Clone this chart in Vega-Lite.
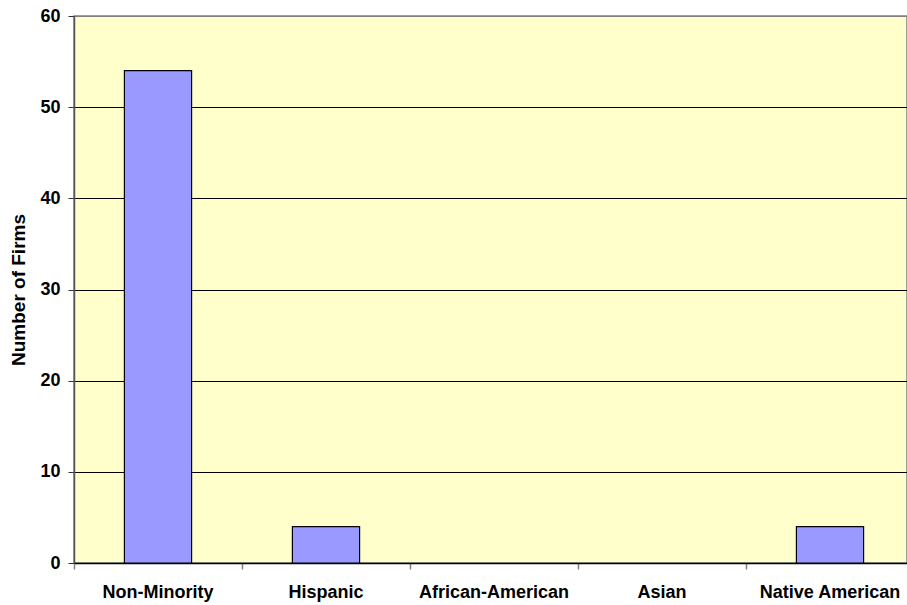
{
  "$schema": "https://vega.github.io/schema/vega-lite/v6.json",
  "width": 833,
  "height": 547,
  "autosize": {"type": "none"},
  "padding": {"left": 74, "top": 16, "right": 0, "bottom": 42},
  "background": "white",
  "config": {
    "font": "Liberation Sans",
    "view": {"fill": "#FFFFCC", "stroke": "#808080", "strokeWidth": 1.5}
  },
  "data": {
    "values": [
      {"group": "Non-Minority", "firms": 54},
      {"group": "Hispanic", "firms": 4},
      {"group": "African-American", "firms": 0},
      {"group": "Asian", "firms": 0},
      {"group": "Native American", "firms": 4}
    ]
  },
  "transform": [{"filter": "datum.firms > 0"}],
  "mark": {
    "type": "bar",
    "fill": "#9999FF",
    "stroke": "black",
    "strokeWidth": 1.2,
    "width": {"band": 0.4}
  },
  "encoding": {
    "x": {
      "field": "group",
      "type": "nominal",
      "sort": null,
      "scale": {
        "domain": ["Non-Minority", "Hispanic", "African-American", "Asian", "Native American"],
        "range": [0, 840],
        "paddingInner": 0,
        "paddingOuter": 0
      },
      "axis": {
        "title": null,
        "labelAngle": 0,
        "labelFontSize": 18,
        "labelFontWeight": "bold",
        "labelColor": "black",
        "labelPadding": 14,
        "tickSize": 6,
        "tickColor": "#808080",
        "tickWidth": 1.5,
        "domainColor": "black",
        "domainWidth": 1.5,
        "bandPosition": 0,
        "grid": false
      }
    },
    "y": {
      "field": "firms",
      "type": "quantitative",
      "scale": {"domain": [0, 60], "nice": false},
      "axis": {
        "title": "Number of Firms",
        "titleFontSize": 19,
        "titleFontWeight": "bold",
        "titleColor": "black",
        "titleX": -56,
        "titleY": 273.5,
        "titleBaseline": "middle",
        "titleAlign": "center",
        "titleAngle": 270,
        "values": [0, 10, 20, 30, 40, 50, 60],
        "labelFontSize": 18,
        "labelFontWeight": "bold",
        "labelColor": "black",
        "labelPadding": 8,
        "tickSize": 6,
        "tickColor": "#333333",
        "domainColor": "#555555",
        "domainWidth": 1.5,
        "grid": true,
        "gridColor": {
          "condition": {"test": "datum.value == 60", "value": "#808080"},
          "value": "black"
        },
        "gridWidth": 1,
        "gridOpacity": 1
      }
    }
  }
}
